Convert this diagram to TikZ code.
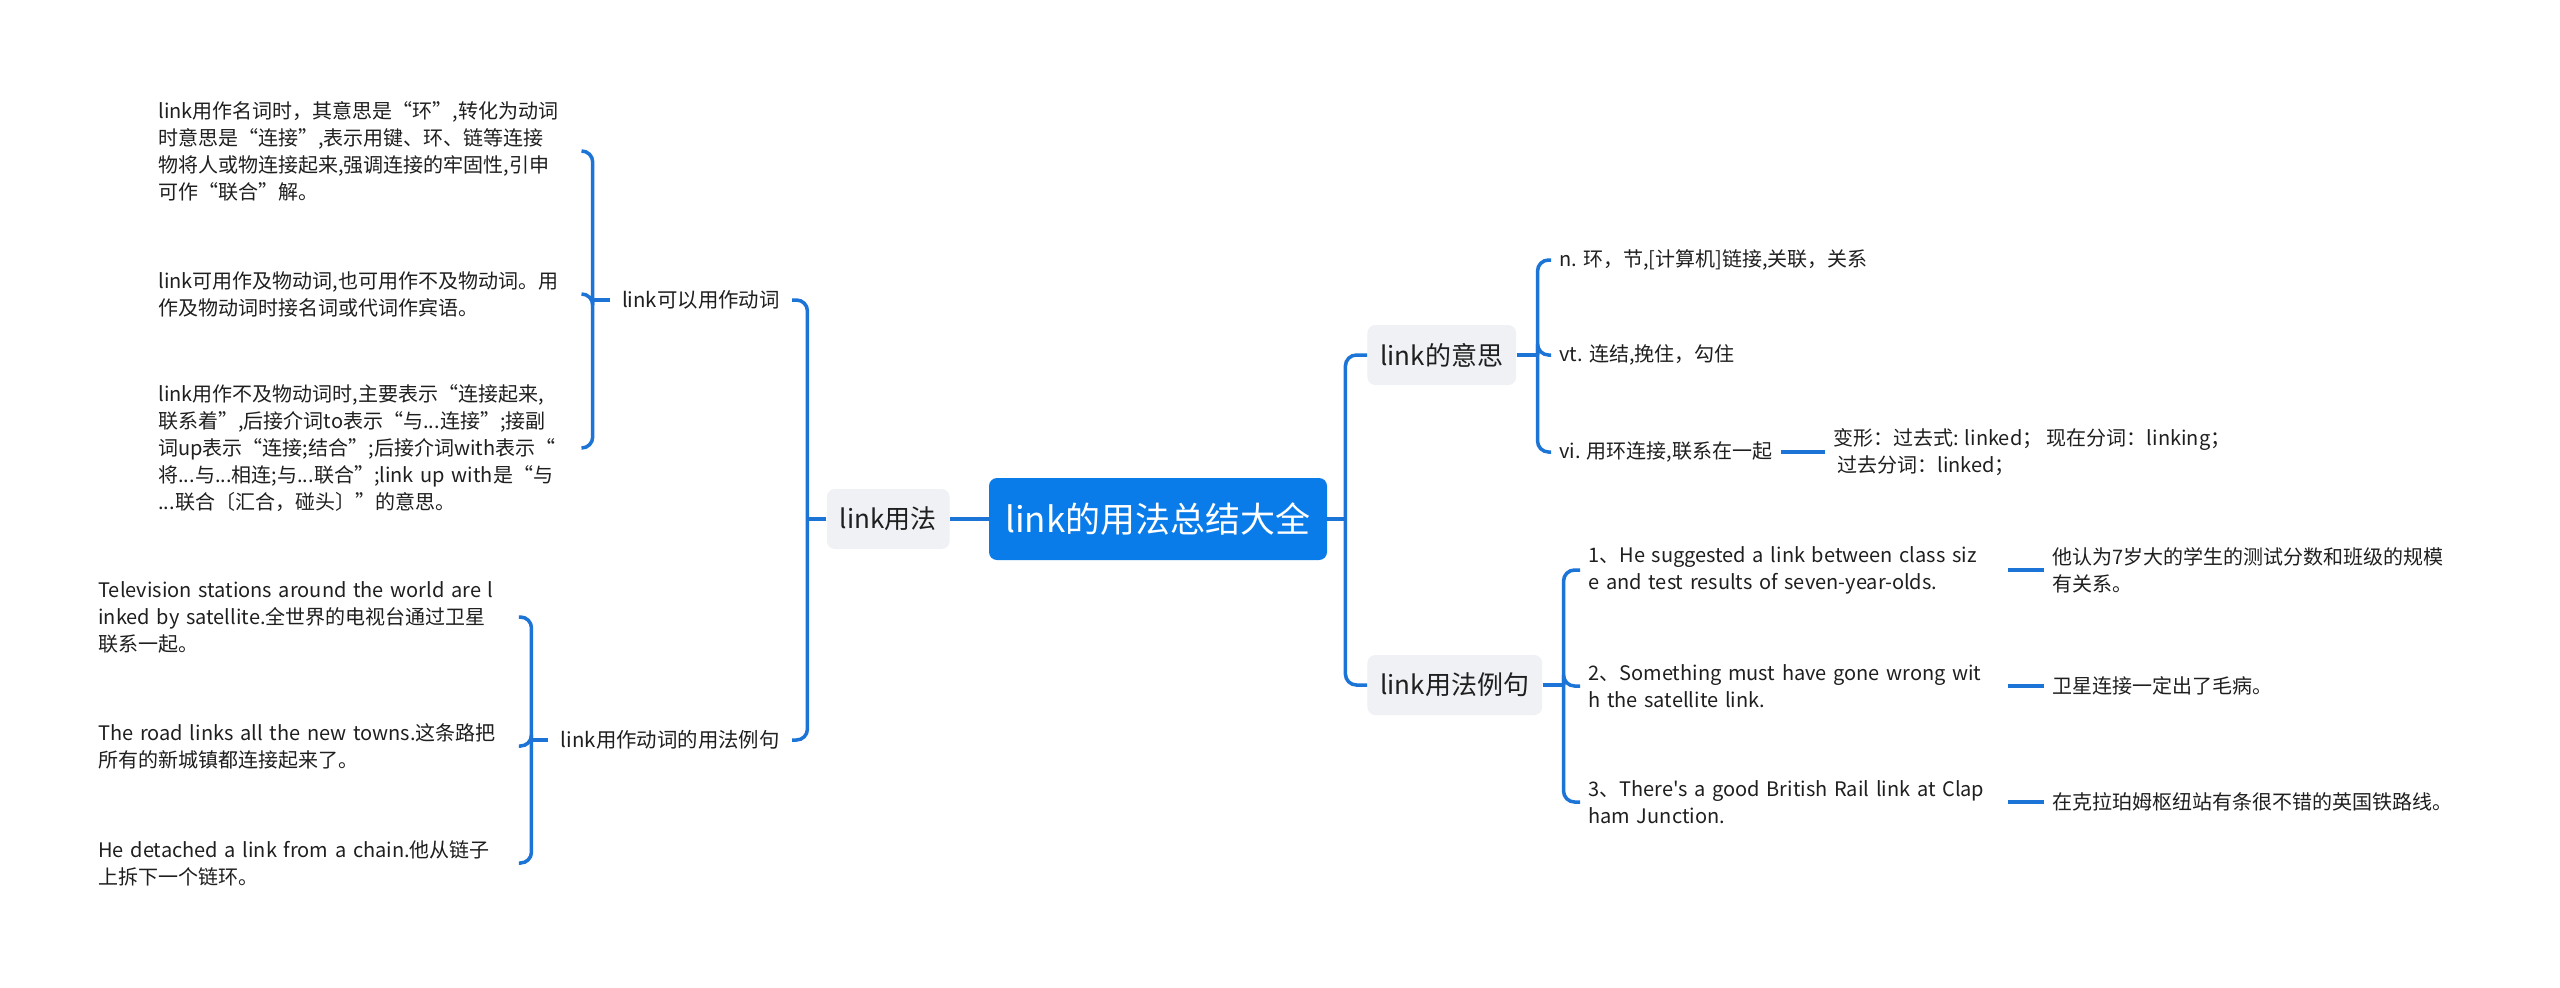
\documentclass[tikz,border=0pt]{standalone}
\usepackage{fontspec}
\setmainfont{Noto Sans CJK SC}[Ligatures=TeXOff]
\definecolor{linkblue}{HTML}{1B74D6}
\definecolor{rootblue}{HTML}{0A7CEA}
\definecolor{topicgray}{HTML}{EFF1F4}
\definecolor{inkgray}{HTML}{1F1F1F}

\begin{document}
\begin{tikzpicture}[
    x=0.5pt, y=-0.5pt,
    root/.style={rectangle, rounded corners=4pt, fill=rootblue, text=white, font=\fontsize{17.5}{21}\selectfont, minimum width=169pt, minimum height=41pt, inner sep=0pt},
    topic/.style={rectangle, rounded corners=4pt, fill=topicgray, text=inkgray, font=\fontsize{13}{16}\selectfont, minimum height=30pt, inner xsep=6.5pt},
    sub/.style={text=inkgray, font=\fontsize{10.2}{14}\selectfont, inner xsep=6pt, inner ysep=3pt},
    leaf/.style={text=inkgray, font=\fontsize{10}{13.5}\selectfont, align=left, inner xsep=4pt, inner ysep=3pt},
    branch/.style={draw=linkblue, line width=1.75pt, rounded corners=5.5pt},
  ]
  \fill[white] (0,0) rectangle (2560,987);
  \useasboundingbox (0,0) rectangle (2560,987);

  % centre and main topics
  \node[root] (root) at (1158,519) {link的用法总结大全};
  \node[topic, anchor=east] (usage) at (950,519) {link用法};
  \node[topic, anchor=west] (mean) at (1367,355) {link的意思};
  \node[topic, anchor=west] (ex) at (1367,685) {link用法例句};

  % left side
  \node[sub, anchor=east] (verb) at (792,300) {link可以用作动词};
  \node[sub, anchor=east] (vex) at (792,740) {link用作动词的用法例句};

  \node[leaf, anchor=west, text width=207.5pt] (v1) at (150,151)
    {link用作名词时，其意思是“环”,转化为动词\\时意思是“连接”,表示用键、环、链等连接\\物将人或物连接起来,强调连接的牢固性,引申\\可作“联合”解。};
  \node[leaf, anchor=west, text width=207.5pt] (v2) at (150,294)
    {link可用作及物动词,也可用作不及物动词。用\\作及物动词时接名词或代词作宾语。};
  \node[leaf, anchor=west, text width=207.5pt] (v3) at (150,448)
    {link用作不及物动词时,主要表示“连接起来,\\联系着”,后接介词to表示“与...连接”;接副\\词up表示“连接;结合”;后接介词with表示“\\将...与...相连;与...联合”;link up with是“与\\...联合〔汇合，碰头〕”的意思。};

  \node[leaf, anchor=west, text width=206pt] (x1) at (90,617)
    {Television stations around the world are l\\inked by satellite.全世界的电视台通过卫星\\联系一起。};
  \node[leaf, anchor=west, text width=206pt] (x2) at (90,746)
    {The road links all the new towns.这条路把\\所有的新城镇都连接起来了。};
  \node[leaf, anchor=west, text width=206pt] (x3) at (90,863)
    {He detached a link from a chain.他从链子\\上拆下一个链环。};

  % right side
  \node[leaf, anchor=west] (m1) at (1551,260) {n. 环，节,[计算机]链接,关联，关系};
  \node[leaf, anchor=west] (m2) at (1551,355) {vt. 连结,挽住，勾住};
  \node[leaf, anchor=west] (m3) at (1551,452) {vi. 用环连接,联系在一起};
  \node[leaf, anchor=west] (form) at (1825,452)
    {变形：过去式: linked；\ 现在分词：linking；\\\hspace{2pt}过去分词：linked；};

  \node[leaf, anchor=west, text width=205.5pt] (e1) at (1580,570)
    {1、He suggested a link between class siz\\e and test results of seven-year-olds.};
  \node[leaf, anchor=west, text width=205.5pt] (e2) at (1580,686)
    {2、Something must have gone wrong wit\\h the satellite link.};
  \node[leaf, anchor=west, text width=205.5pt] (e3) at (1580,802)
    {3、There's a good British Rail link at Clap\\ham Junction.};
  \node[leaf, anchor=west] (t1) at (2044,570) {他认为7岁大的学生的测试分数和班级的规模\\有关系。};
  \node[leaf, anchor=west] (t2) at (2044,686) {卫星连接一定出了毛病。};
  \node[leaf, anchor=west] (t3) at (2044,802) {在克拉珀姆枢纽站有条很不错的英国铁路线。};

  % connectors
  \draw[branch] (root.west) -- (usage.east);
  \draw[branch] (root.east) -- ++(18,0) coordinate (root-r);
  \draw[branch] (root-r) |- (mean.west);
  \draw[branch] (root-r) |- (ex.west);

  \draw[branch] (usage.west) -- ++(-19,0) coordinate (usage-l);
  \draw[branch] (usage-l) |- (verb.east);
  \draw[branch] (usage-l) |- (vex.east);

  \draw[branch] (verb.west) -- ++(-17,0) coordinate (verb-l);
  \foreach \n in {v1,v2,v3}
    \draw[branch] (verb-l) |- (\n.east);
  \draw[branch] (vex.west) -- ++(-17,0) coordinate (vex-l);
  \foreach \n in {x1,x2,x3}
    \draw[branch] (vex-l) |- (\n.east);

  \draw[branch] (mean.east) -- ++(21,0) coordinate (mean-r);
  \foreach \n in {m1,m2,m3}
    \draw[branch] (mean-r) |- (\n.west);
  \draw[branch] (m3.east) -- (form.west);

  \draw[branch] (ex.east) -- ++(21,0) coordinate (ex-r);
  \foreach \n in {e1,e2,e3}
    \draw[branch] (ex-r) |- (\n.west);
  \draw[branch] (e1.east) -- (t1.west);
  \draw[branch] (e2.east) -- (t2.west);
  \draw[branch] (e3.east) -- (t3.west);
\end{tikzpicture}
\end{document}
